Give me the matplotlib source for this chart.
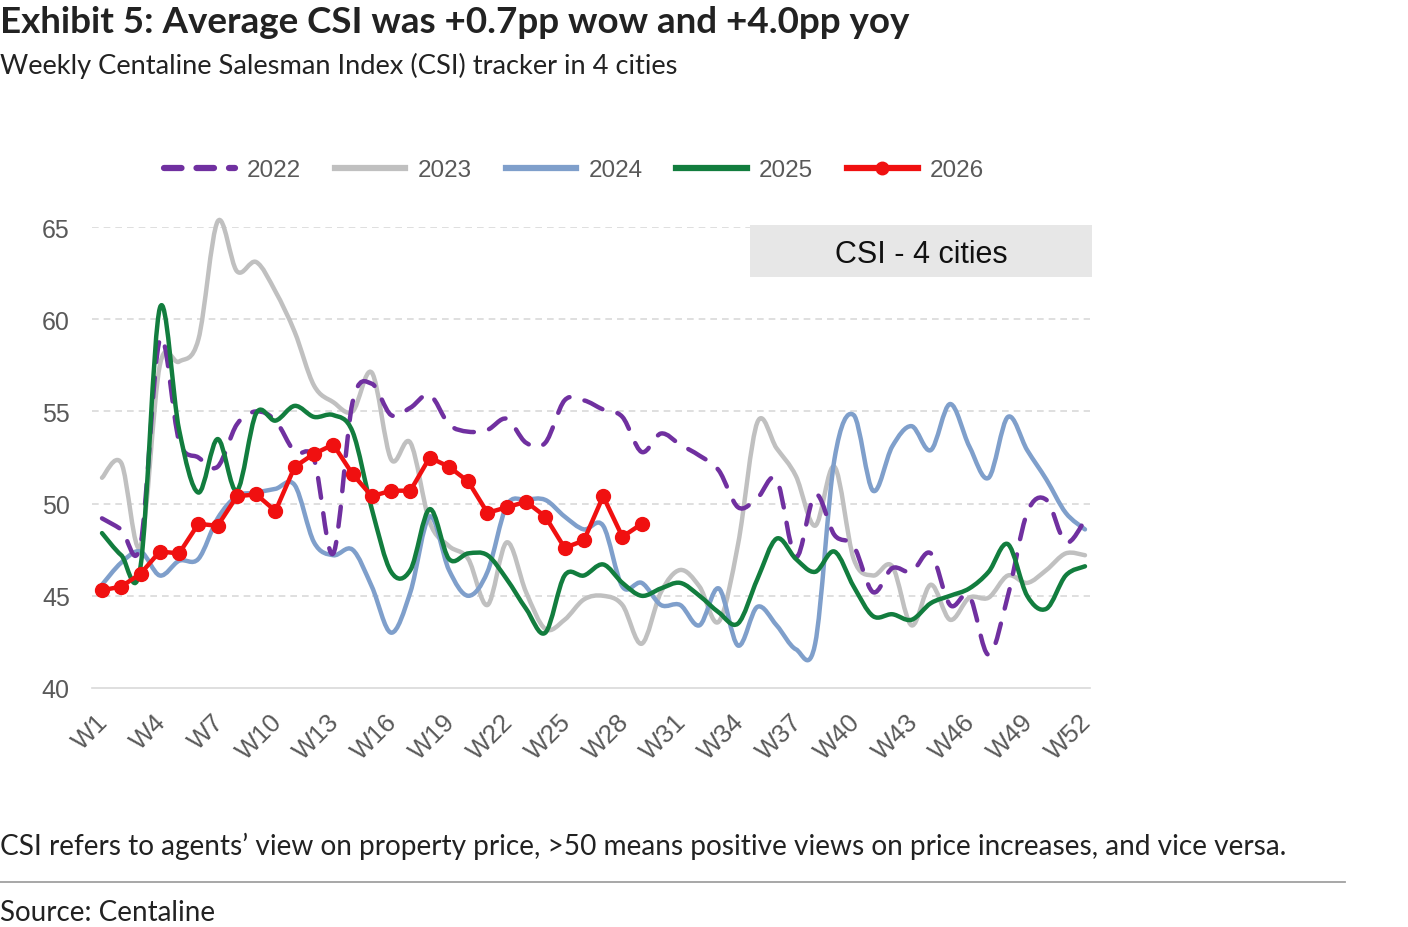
import matplotlib
matplotlib.use("Agg")
import matplotlib.pyplot as plt
from matplotlib.path import Path
from matplotlib.patches import PathPatch, Rectangle
from matplotlib.lines import Line2D
import matplotlib.transforms as mtransforms
import numpy as np

weeks = list(range(1, 53))
tick_weeks = [1, 4, 7, 10, 13, 16, 19, 22, 25, 28, 31, 34, 37, 40, 43, 46, 49, 52]
tick_labels = ["W1", "W4", "W7", "W10", "W13", "W16", "W19", "W22", "W25", "W28",
               "W31", "W34", "W37", "W40", "W43", "W46", "W49", "W52"]

csi_2022 = [49.2, 48.6, 47.8, 58.9, 53.4, 52.5, 52.0, 54.3, 55.0, 54.5, 52.8, 52.4, 47.3,
            55.5, 56.5, 54.8, 55.2, 55.9, 54.3, 53.9, 54.0, 54.6, 53.3, 53.3, 55.6, 55.6,
            55.1, 54.7, 52.8, 53.8, 53.2, 52.6, 51.8, 49.8, 50.3, 51.3, 47.1, 50.5, 48.3,
            47.7, 45.2, 46.5, 46.3, 47.3, 44.5, 45.0, 41.8, 45.0, 49.5, 50.2, 47.9, 49.1]
csi_2023 = [51.4, 52.2, 47.7, 57.5, 57.7, 58.9, 65.3, 62.6, 63.1, 61.5, 59.3, 56.4, 55.5,
            55.0, 57.1, 52.4, 53.3, 49.0, 47.7, 47.0, 44.5, 47.9, 45.2, 43.2, 43.7, 44.8,
            45.0, 44.5, 42.4, 45.2, 46.4, 45.5, 43.6, 47.8, 54.4, 53.0, 51.5, 48.8, 52.0,
            47.0, 46.1, 46.6, 43.4, 45.6, 43.7, 44.9, 44.9, 46.1, 45.7, 46.4, 47.3, 47.2]
csi_2024 = [45.6, 46.8, 47.4, 46.1, 46.9, 47.0, 49.2, 50.4, 50.6, 50.8, 51.0, 47.9, 47.2,
            47.5, 45.5, 43.0, 45.2, 49.3, 46.4, 45.0, 46.3, 49.9, 50.2, 50.2, 49.3, 48.6,
            48.8, 45.5, 45.7, 44.5, 44.5, 43.4, 45.4, 42.3, 44.4, 43.4, 42.1, 42.4, 52.4,
            54.8, 50.7, 53.1, 54.2, 52.9, 55.4, 53.1, 51.4, 54.7, 52.9, 51.3, 49.5, 48.6]
csi_2025 = [48.4, 47.2, 46.6, 60.6, 54.0, 50.6, 53.5, 50.7, 54.9, 54.5, 55.3, 54.7, 54.8,
            53.9, 49.7, 46.3, 46.4, 49.7, 47.0, 47.3, 47.2, 45.9, 44.3, 43.0, 46.1, 46.1,
            46.7, 45.7, 45.0, 45.4, 45.7, 45.0, 44.1, 43.5, 45.9, 48.1, 47.0, 46.3, 47.4,
            45.5, 43.9, 44.0, 43.7, 44.6, 45.0, 45.4, 46.3, 47.8, 45.0, 44.3, 46.1, 46.6]
csi_2026 = [45.3, 45.5, 46.2, 47.4, 47.3, 48.9, 48.8, 50.4, 50.5, 49.6, 52.0, 52.7, 53.2,
            51.6, 50.4, 50.7, 50.7, 52.5, 52.0, 51.2, 49.5, 49.8, 50.1, 49.3, 47.6, 48.0,
            50.4, 48.2, 48.9]

C2022 = "#7030A0"
C2023 = "#C0C0C0"
C2024 = "#7F9FCB"
C2025 = "#127D3E"
C2026 = "#F01010"

plt.rcParams['font.family'] = ['Liberation Sans', 'DejaVu Sans']

fig = plt.figure(figsize=(14.08, 9.28), dpi=100)
ax = fig.add_axes([92/1408, (928-689)/928, 998/1408, 461/928])


def smooth_path(x, y):
    x = np.asarray(x, float)
    y = np.asarray(y, float)
    n = len(x)
    verts = [(x[0], y[0])]
    codes = [Path.MOVETO]
    for i in range(n - 1):
        p0 = np.array([x[max(i - 1, 0)], y[max(i - 1, 0)]])
        p1 = np.array([x[i], y[i]])
        p2 = np.array([x[i + 1], y[i + 1]])
        p3 = np.array([x[min(i + 2, n - 1)], y[min(i + 2, n - 1)]])
        c1 = p1 + (p2 - p0) / 6.0
        c2 = p2 - (p3 - p1) / 6.0
        verts += [tuple(c1), tuple(c2), tuple(p2)]
        codes += [Path.CURVE4] * 3
    return Path(verts, codes)


def add_smooth(x, y, color, lw, ls='-', z=2):
    patch = PathPatch(smooth_path(x, y), fill=False, edgecolor=color, lw=lw,
                      linestyle=ls, capstyle='round', joinstyle='round', zorder=z,
                      clip_on=False)
    ax.add_patch(patch)


add_smooth(weeks, csi_2023, C2023, 3.2, z=2)
add_smooth(weeks, csi_2024, C2024, 3.2, z=3)
add_smooth(weeks, csi_2022, C2022, 3.2, ls=(0, (4.5, 3.5)), z=4)
add_smooth(weeks, csi_2025, C2025, 3.2, z=5)
ax.plot(weeks[:len(csi_2026)], csi_2026, color=C2026, lw=3.2, marker='o',
        markersize=10, zorder=6, clip_on=False, solid_joinstyle='round')

ax.set_xlim(0.481, 52.26)
ax.set_ylim(40, 65)
ax.set_yticks([40, 45, 50, 55, 60, 65])
ax.set_xticks(tick_weeks)
ax.set_xticklabels(tick_labels, rotation=45, ha='right', va='top',
                   rotation_mode='anchor')
for s in ['top', 'right', 'left']:
    ax.spines[s].set_visible(False)
ax.spines['bottom'].set_color('#D9D9D9')
ax.spines['bottom'].set_linewidth(1.2)
ax.tick_params(axis='both', length=0, labelcolor='#595959')
ax.tick_params(axis='y', pad=16, labelsize=18)
ax.tick_params(axis='x', pad=15, labelsize=18.5)
offset = mtransforms.ScaledTranslation(-6/100, 0, fig.dpi_scale_trans)
for lab in ax.get_xticklabels():
    lab.set_transform(lab.get_transform() + offset)
for v in [45, 50, 55, 60, 65]:
    ax.axhline(v, color='#D9D9D9', lw=1.2, ls=(0, (4, 3)), zorder=1)

handles = [
    Line2D([], [], color=C2022, lw=4.5, ls=(0, (2.8, 2.4)), dash_capstyle='round'),
    Line2D([], [], color=C2023, lw=4.5),
    Line2D([], [], color=C2024, lw=4.5),
    Line2D([], [], color=C2025, lw=4.5),
    Line2D([], [], color=C2026, lw=4.5, marker='o', markersize=9),
]
leg = fig.legend(handles, ["2022", "2023", "2024", "2025", "2026"], loc='center',
                 bbox_to_anchor=(574/1408, (928-171)/928), ncol=5, frameon=False,
                 fontsize=17.5, handlelength=2.9, handletextpad=0.5,
                 columnspacing=1.4, labelcolor='#595959')

fig.patches.append(Rectangle((750/1408, (928-278)/928), 342/1408, 52/928,
                             transform=fig.transFigure, facecolor='#E7E7E7',
                             edgecolor='none', zorder=0))
fig.text(921/1408, (928-255)/928, "CSI - 4 cities", ha='center', va='center',
         fontsize=22, color='#111111')

fig.text(0.0, (928-33)/928, "Exhibit 5: Average CSI was +0.7pp wow and +4.0pp yoy",
         fontsize=26.5, fontweight='bold', color='#222222', ha='left', va='baseline',
         family=['Lato', 'DejaVu Sans'])
fig.text(0.0, (928-74)/928, "Weekly Centaline Salesman Index (CSI) tracker in 4 cities",
         fontsize=19.6, color='#222222', ha='left', va='baseline',
         family=['Lato', 'DejaVu Sans'])
fig.text(0.0, (928-855)/928,
         "CSI refers to agents\u2019 view on property price, >50 means positive views on price increases, and vice versa.",
         fontsize=20.2, color='#222222', ha='left', va='baseline',
         family=['Lato', 'DejaVu Sans'])
fig.add_artist(Line2D([0, 1345/1408], [(928-883)/928, (928-883)/928],
                      transform=fig.transFigure, color='#A0A0A0', lw=1.3))
fig.text(0.0, (928-921)/928, "Source: Centaline", fontsize=20, color='#222222',
         ha='left', va='baseline', family=['Lato', 'DejaVu Sans'])

fig.savefig("out.png", dpi=100)
